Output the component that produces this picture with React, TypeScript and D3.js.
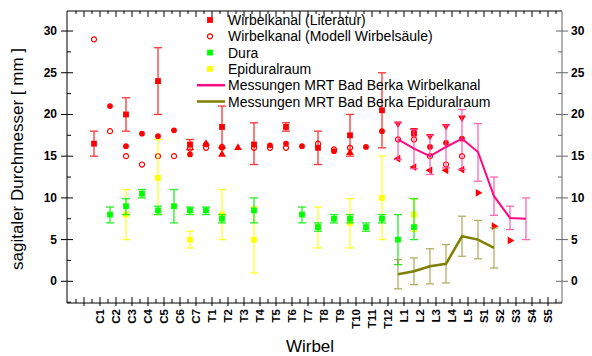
import React from "react";
import * as d3 from "d3";

const cats = [
  "C1", "C2", "C3", "C4", "C5", "C6", "C7",
  "T1", "T2", "T3", "T4", "T5", "T6", "T7", "T8", "T9", "T10", "T11", "T12",
  "L1", "L2", "L3", "L4", "L5",
  "S1", "S2", "S3", "S4", "S5",
];

// [vertebra, value, low, high]
type Pt = [string, number, number?, number?];

// Wirbelkanal (Literatur) - squares with error bars
const litSquares: Pt[] = [
  ["C1", 16.5, 15, 18], ["C3", 20, 18, 22], ["C5", 24, 20, 28], ["C7", 16.4, 15.8, 17],
  ["T2", 18.5, 16, 21], ["T4", 16.4, 14, 19], ["T6", 18.5, 18, 19], ["T8", 16, 14, 18],
  ["T10", 17.5, 15, 20], ["T12", 20.5, 16, 25], ["L2", 17.7],
];
// further literature series (other marker shapes)
const litCircles: Pt[] = [
  ["C2", 21], ["C3", 16.2], ["C4", 17.7], ["C5", 17.4], ["C6", 18.1], ["C7", 15.2],
  ["T1", 16.4], ["T2", 16], ["T5", 16.3], ["T6", 16.5], ["T7", 16.2], ["T9", 15.6],
  ["T11", 16.1], ["T12", 18], ["L3", 16.1], ["L4", 16.6], ["L5", 17.1],
];
const litUp: Pt[] = [["T1", 16.5], ["T2", 15.2], ["T3", 16], ["T10", 15.4]];
const litDown: Pt[] = [["L1", 18.9], ["L2", 18.1], ["L3", 17.4], ["L4", 18.6], ["L5", 19.6]];
const litLeft: Pt[] = [["L1", 14.7], ["L2", 13.7], ["L3", 13.3], ["L4", 13.3], ["L5", 13.4]];
const litRight: Pt[] = [["S1", 10.6], ["S2", 6.6], ["S3", 4.9]];

// Wirbelkanal (Modell Wirbelsäule)
const modell: Pt[] = [
  ["C1", 29], ["C2", 18], ["C3", 15], ["C4", 14], ["C5", 15], ["C6", 15], ["C7", 15.9],
  ["T1", 16], ["T2", 16.1], ["T4", 16], ["T5", 16], ["T6", 16], ["T8", 16.5], ["T9", 15.8],
  ["T10", 16], ["L1", 17], ["L2", 17], ["L3", 15], ["L4", 14], ["L5", 15],
];

const dura: Pt[] = [
  ["C2", 8, 7, 8.9], ["C3", 9, 8, 9.9], ["C4", 10.5, 10, 11], ["C5", 8.5, 8, 9],
  ["C6", 9, 7, 11], ["C7", 8.5, 8, 8.9], ["T1", 8.5, 8, 8.9], ["T2", 7.5, 7, 8],
  ["T4", 8.5, 7, 10], ["T7", 8, 7, 8.9], ["T8", 6.5, 6, 7], ["T9", 7.5, 7, 8],
  ["T10", 7.5, 7, 8], ["T11", 6.5, 6, 7], ["T12", 7.5, 7, 8], ["L1", 5, 2, 8],
  ["L2", 6.5, 5, 9.9],
];

const epidural: Pt[] = [
  ["C3", 8, 5, 11], ["C5", 12.4, 8, 17], ["C7", 5, 4, 6], ["T2", 8, 5, 11],
  ["T4", 5, 1, 8.9], ["T8", 6.5, 4, 8.9], ["T10", 7, 4, 9.9], ["T12", 10, 5, 15],
  ["L2", 8, 6, 9.9],
];

const mrtKanal: Pt[] = [
  ["L1", 17, 14.6, 19], ["L2", 15.9, 13.5, 18.2], ["L3", 15, 12.8, 17.5],
  ["L4", 16.1, 13.6, 18.7], ["L5", 17.1, 13.4, 20.6], ["S1", 15.5, 12, 18.9],
  ["S2", 10.2, 7.9, 12.5], ["S3", 7.6, 6.2, 9], ["S4", 7.5, 5, 10],
];

const mrtEpi: Pt[] = [
  ["L1", 0.85, -0.9, 2.6], ["L2", 1.2, -0.4, 2.8], ["L3", 1.8, -0.3, 3.9],
  ["L4", 2.1, -0.2, 4.4], ["L5", 5.4, 3, 7.8], ["S1", 5, 2.7, 7.3], ["S2", 4, 1.6, 6.4],
];

const yTicks = [0, 5, 10, 15, 20, 25, 30];

const legendItems = [
  { label: "Wirbelkanal (Literatur)", kind: "square", color: "#ff0000" },
  { label: "Wirbelkanal (Modell Wirbelsäule)", kind: "circle", color: "#ff0000" },
  { label: "Dura", kind: "square", color: "#00ff00" },
  { label: "Epiduralraum", kind: "square", color: "#ffff00" },
  { label: "Messungen MRT Bad Berka Wirbelkanal", kind: "line", color: "#ff0a85" },
  { label: "Messungen MRT Bad Berka Epiduralraum", kind: "line", color: "#808000" },
];

const W = 592;
const H = 356;
const left = 67, right = 562, top = 11, bottom = 303;
const font = "Arial, 'Liberation Sans', sans-serif";

const x = d3.scaleLinear().domain([-1.0625, 29.875]).range([left, right]);
const y = d3.scaleLinear().domain([-2.6, 32.4]).range([bottom, top]);
const px = (c: string) => x(cats.indexOf(c) + 1 - 0.375);

const sym = (type: d3.SymbolType, size: number) => d3.symbol().type(type).size(size)() as string;

function ErrorBars({ data, color, opacity = 1 }: { data: Pt[]; color: string; opacity?: number }) {
  return (
    <g stroke={color} strokeWidth={1.3} opacity={opacity}>
      {data.filter((d) => d[2] !== undefined).map((d, i) => {
        const cx = px(d[0]);
        return (
          <g key={i}>
            <line x1={cx} x2={cx} y1={y(d[2]!)} y2={y(d[3]!)} />
            <line x1={cx - 4} x2={cx + 4} y1={y(d[2]!)} y2={y(d[2]!)} />
            <line x1={cx - 4} x2={cx + 4} y1={y(d[3]!)} y2={y(d[3]!)} />
          </g>
        );
      })}
    </g>
  );
}

function Markers({ data, path, rotate = 0, fill, stroke }: { data: Pt[]; path: string; rotate?: number; fill: string; stroke?: string }) {
  return (
    <g>
      {data.map((d, i) => (
        <path
          key={i}
          d={path}
          transform={`translate(${px(d[0])},${y(d[1])}) rotate(${rotate})`}
          fill={fill}
          stroke={stroke ?? "none"}
          strokeWidth={1.2}
        />
      ))}
    </g>
  );
}

export default function App() {
  const square = sym(d3.symbolSquare, 34);
  const tri = sym(d3.symbolTriangle, 26);
  const circ = sym(d3.symbolCircle, 26);
  const openCirc = sym(d3.symbolCircle, 20);

  const line = d3.line<Pt>().x((d) => px(d[0])).y((d) => y(d[1]));

  const majorX = d3.range(0, 30);
  const minorX = d3.range(-0.5, 30, 1);
  const minorY = d3.range(-2.5, 32.5, 5);

  return (
    <svg width={W} height={H} style={{ position: "absolute", left: 0, top: 0, background: "#fff" }} fontFamily={font}>
      {/* frame */}
      <line x1={left} x2={right} y1={top} y2={top} stroke="#000" />
      <line x1={left} x2={right} y1={bottom} y2={bottom} stroke="#000" />
      <line x1={left} x2={left} y1={top} y2={bottom} stroke="#000" />
      <line x1={right} x2={right} y1={top} y2={bottom} stroke="#666" />

      {/* x ticks */}
      {majorX.map((v) => (
        <g key={"mx" + v} stroke="#000">
          <line x1={x(v)} x2={x(v)} y1={bottom - 6} y2={bottom + 3} />
          <line x1={x(v)} x2={x(v)} y1={top} y2={top + 6} />
        </g>
      ))}
      {minorX.map((v) => (
        <g key={"nx" + v} stroke="#000">
          <line x1={x(v)} x2={x(v)} y1={bottom - 4} y2={bottom} />
          <line x1={x(v)} x2={x(v)} y1={top} y2={top + 3} />
        </g>
      ))}
      {cats.map((c, i) => (
        <text
          key={c}
          transform={`translate(${x(i + 1) + 4},${bottom + 6}) rotate(-90)`}
          textAnchor="end"
          fontSize={11.5}
          fontWeight="bold"
        >
          {c}
        </text>
      ))}

      {/* y ticks */}
      {yTicks.map((v) => (
        <g key={"my" + v}>
          <line x1={left - 6} x2={left + 6} y1={y(v)} y2={y(v)} stroke="#000" />
          <line x1={right - 6} x2={right + 6} y1={y(v)} y2={y(v)} stroke="#666" />
          <text x={left - 10} y={y(v) + 4} textAnchor="end" fontSize={12} fontWeight="bold">{v}</text>
          <text x={right + 9} y={y(v) + 4} textAnchor="start" fontSize={12} fontWeight="bold">{v}</text>
        </g>
      ))}
      {minorY.map((v) => (
        <g key={"ny" + v}>
          <line x1={left} x2={left + 4} y1={y(v)} y2={y(v)} stroke="#000" />
          <line x1={right - 4} x2={right} y1={y(v)} y2={y(v)} stroke="#666" />
        </g>
      ))}

      {/* axis titles */}
      <text transform={`translate(23,${(top + bottom) / 2 + 2}) rotate(-90)`} textAnchor="middle" fontSize={17}>
        sagitaler Durchmesser [ mm ]
      </text>
      <text x={310} y={352} textAnchor="middle" fontSize={17}>Wirbel</text>

      {/* literature */}
      <ErrorBars data={litSquares} color="#ff0000" opacity={0.8} />
      <Markers data={litSquares} path={square} fill="#ff0000" />
      <Markers data={litCircles} path={circ} fill="#ff0000" />
      <Markers data={litUp} path={tri} fill="#ff0000" />
      <Markers data={litDown} path={tri} rotate={180} fill="#ff0000" />
      <Markers data={litLeft} path={tri} rotate={-90} fill="#ff0000" />
      <Markers data={litRight} path={tri} rotate={90} fill="#ff0000" />
      <Markers data={modell} path={openCirc} fill="none" stroke="#ff0000" />

      {/* Epiduralraum and Dura */}
      <ErrorBars data={epidural} color="#ffff00" opacity={0.85} />
      <Markers data={epidural} path={square} fill="#ffff00" />
      <ErrorBars data={dura} color="#00ee00" opacity={0.85} />
      <Markers data={dura} path={square} fill="#00ff00" />

      {/* MRT Bad Berka */}
      <ErrorBars data={mrtKanal} color="#ff4da6" opacity={0.85} />
      <path d={line(mrtKanal) ?? ""} fill="none" stroke="#ff0a85" strokeWidth={2} />
      <ErrorBars data={mrtEpi} color="#8f8f20" opacity={0.7} />
      <path d={line(mrtEpi) ?? ""} fill="none" stroke="#808000" strokeWidth={2.5} />

      {/* legend */}
      {legendItems.map((item, i) => {
        const ly = 20 + i * 16.3;
        return (
          <g key={item.label}>
            {item.kind === "line" ? (
              <line x1={197} x2={225} y1={ly} y2={ly} stroke={item.color} strokeWidth={2.5} />
            ) : item.kind === "circle" ? (
              <path d={openCirc} transform={`translate(210,${ly})`} fill="none" stroke={item.color} strokeWidth={1.2} />
            ) : (
              <path d={square} transform={`translate(210,${ly})`} fill={item.color} />
            )}
            <text x={228} y={ly + 5} fontSize={14}>{item.label}</text>
          </g>
        );
      })}
    </svg>
  );
}
